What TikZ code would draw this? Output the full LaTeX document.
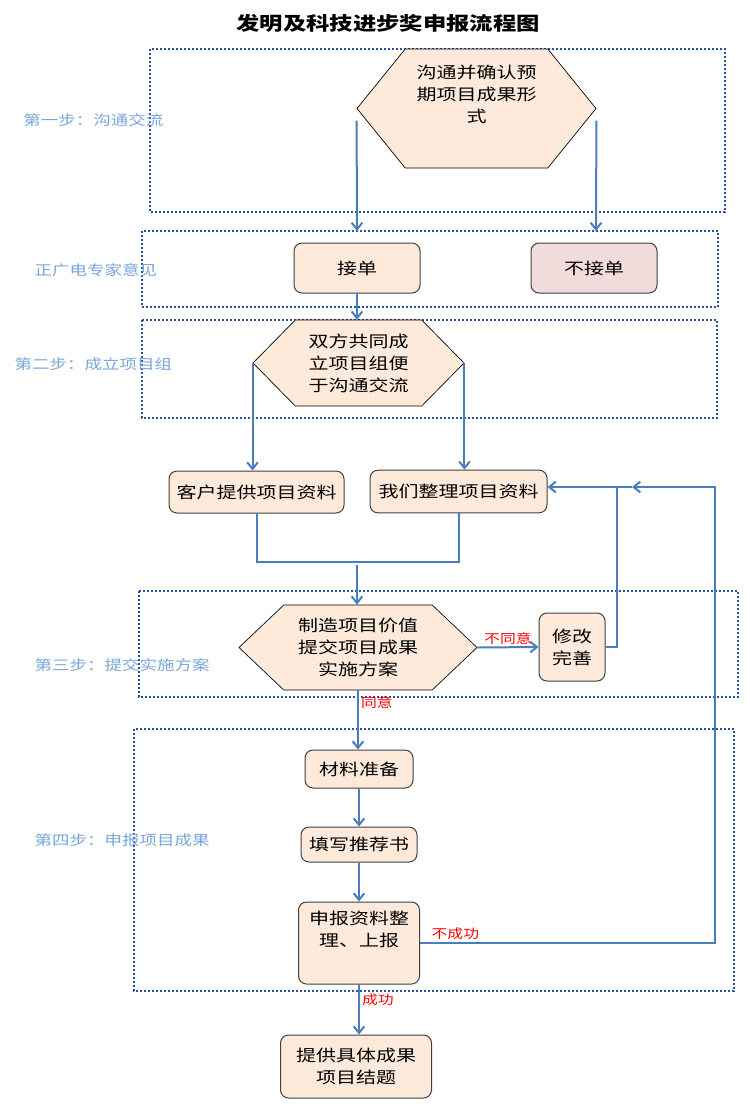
\documentclass[tikz,border=0pt]{standalone}
\usepackage{fontspec}
\newfontfamily\cjk{Noto Sans CJK SC}[FakeStretch=1.25]
\usetikzlibrary{shapes.symbols,arrows.meta}
\definecolor{frameblue}{RGB}{40,80,160}
\definecolor{steptext}{RGB}{120,165,220}
\definecolor{flowblue}{RGB}{74,126,187}
\definecolor{peach}{RGB}{253,234,218}
\definecolor{rosy}{RGB}{242,220,219}
\definecolor{edgegray}{RGB}{64,64,64}
\tikzset{every picture/.style={line width=0.75pt}}
\tikzset{
  stepframe/.style={draw=frameblue, line width=1.5pt, dash pattern=on 1.5pt off 1.5pt},
  steplabel/.style={anchor=west, inner sep=0.75pt, text=steptext, font=\cjk\fontsize{10.5}{12}\selectfont},
  card/.style={draw=edgegray, fill=peach, rounded corners=6pt, align=center, inner sep=0.75pt, font=\cjk\fontsize{12}{16.5}\selectfont},
  hexa/.style={shape=signal, signal to=west and east, draw=black, line width=0.5pt, fill=peach, align=center, inner sep=0.75pt, font=\cjk\fontsize{12}{16.5}\selectfont},
  flow/.style={draw=flowblue, line width=1.5pt, -{Straight Barb[length=5pt,width=8pt]}},
  flowline/.style={draw=flowblue, line width=1.5pt},
  remark/.style={text=red, inner sep=1.5pt, font=\cjk\fontsize{9.5}{11}\selectfont},
}

\begin{document}
\begin{tikzpicture}[x=0.75pt,y=0.75pt,yscale=-1,xscale=1]
    \useasboundingbox (0,0) rectangle (750,1111);
    % Title
    \node[inner sep=0.75pt, font=\cjk\bfseries\fontsize{14}{16}\selectfont] (title) at (388,23) {发明及科技进步奖申报流程图};
    % Frames
    \draw[stepframe] (150,49) rectangle (725,212);
    \draw[stepframe] (142,231) rectangle (718,307);
    \draw[stepframe] (142,320) rectangle (717,418);
    \draw[stepframe] (139,591) rectangle (738,697);
    \draw[stepframe] (134,729) rectangle (734,991);
    % Step labels
    \node[steplabel] (s1) at (22,120) {第一步：沟通交流};
    \node[steplabel] (s0) at (33,270) {正广电专家意见};
    \node[steplabel] (s2) at (13,364) {第二步：成立项目组};
    \node[steplabel] (s3) at (33,665) {第三步：提交实施方案};
    \node[steplabel] (s4) at (33,840) {第四步：申报项目成果};
    % Hexagons
    \node[hexa, minimum width=179.25pt, minimum height=89.25pt, signal pointer angle=102] (talk) at (476.5,108.5) {沟通并确认预\\期项目成果形\\式\\\strut};
    \node[hexa, minimum width=158.25pt, minimum height=64.5pt, signal pointer angle=91] (team) at (358.5,363) {双方共同成\\立项目组便\\于沟通交流};
    \node[hexa, minimum width=178.5pt, minimum height=63.75pt, signal pointer angle=87] (plan) at (358,647.5) {制造项目价值\\提交项目成果\\实施方案};
    % Boxes
    \node[card, minimum width=94.5pt, minimum height=37.5pt] (take) at (357,268) {接单};
    \node[card, fill=rosy, minimum width=94.5pt, minimum height=37.5pt] (refuse) at (594,268) {不接单};
    \node[card, minimum width=131.25pt, minimum height=31.5pt] (client) at (256.5,492) {客户提供项目资料};
    \node[card, minimum width=132.75pt, minimum height=32pt] (ours) at (458.5,491.5) {我们整理项目资料};
    \node[card, minimum width=49.5pt, minimum height=51pt] (revise) at (572,647) {修改\\完善};
    \node[card, minimum width=81pt, minimum height=28.5pt] (prep) at (359,769) {材料准备};
    \node[card, minimum width=87pt, minimum height=26.25pt] (letter) at (359,844.5) {填写推荐书};
    \node[card, minimum width=90.75pt, minimum height=61.5pt] (submit) at (359,943) {申报资料整\\理、上报\\\strut};
    \node[card, minimum width=113.25pt, minimum height=47.25pt] (close) at (356,1066.5) {提供具体成果\\项目结题};
    % Connection
    \coordinate (takein) at (357,231);
    \coordinate (refusein) at (596,231);
    \draw[flow] ([yshift=9pt]talk.west) -- (takein);
    \draw[flow] ([yshift=9pt]talk.east) -- (refusein);
    \draw[flow] (take.south) -- (take.south |- team.north);
    \draw[flow] (team.west) -- (team.west |- client.north);
    \draw[flow] (team.east) -- (team.east |- ours.north);
    % Connection
    \coordinate (merge) at (357,562);
    \draw[flowline] (client.south) |- (merge) -| (ours.south);
    \draw[flow] ([yshift=2pt]merge) -- (merge |- plan.north);
    \draw[flow] (plan.east) -- node[remark, above] {不同意} (revise.west);
    \coordinate (fb) at (617,487);
    \draw[flow] (revise.east) -| (fb) -- (fb -| ours.east);
    \draw[flow] (plan.south) -- node[remark, right, pos=0.2] {同意} (plan.south |- prep.north);
    % Connection
    \draw[flow] (prep.south) -- (letter.north);
    \draw[flow] (letter.south) -- (submit.north);
    \coordinate (back) at (715,487);
    \coordinate (backtip) at (632,487);
    \draw[flow] (submit.east) -| node[remark, above, pos=0.06] {不成功} (back) -- (backtip);
    \draw[flowline] (backtip) -- (fb);
    \draw[flow] (submit.south) -- node[remark, right, pos=0.3] {成功} (submit.south |- close.north);
\end{tikzpicture}
\end{document}
